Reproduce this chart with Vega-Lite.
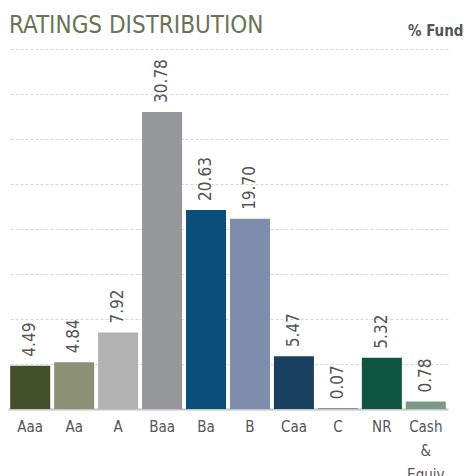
{
  "$schema": "https://vega.github.io/schema/vega-lite/v6.json",
  "autosize": {"type": "none"},
  "width": 440,
  "height": 360,
  "padding": {"left": 8, "top": 49, "right": 19, "bottom": 67},
  "background": "white",
  "config": {"view": {"stroke": null}, "font": "DejaVu Sans Condensed, sans-serif"},
  "title": {
    "text": "RATINGS DISTRIBUTION",
    "anchor": "start",
    "frame": "group",
    "font": "DejaVu Sans Condensed, sans-serif",
    "fontSize": 24,
    "fontWeight": "normal",
    "color": "#6b7356",
    "baseline": "alphabetic",
    "offset": 0,
    "dy": 34,
    "dx": 1
  },
  "data": {
    "values": [
      {"rating": "Aaa", "pct": 4.49, "label": "4.49", "color": "#434f28"},
      {"rating": "Aa", "pct": 4.84, "label": "4.84", "color": "#8c9075"},
      {"rating": "A", "pct": 7.92, "label": "7.92", "color": "#b2b2b2"},
      {"rating": "Baa", "pct": 30.78, "label": "30.78", "color": "#97989a"},
      {"rating": "Ba", "pct": 20.63, "label": "20.63", "color": "#0a4f7a"},
      {"rating": "B", "pct": 19.70, "label": "19.70", "color": "#7d8dab"},
      {"rating": "Caa", "pct": 5.47, "label": "5.47", "color": "#18405f"},
      {"rating": "C", "pct": 0.07, "label": "0.07", "color": "#6a7a8a"},
      {"rating": "NR", "pct": 5.32, "label": "5.32", "color": "#0f5540"},
      {"rating": "Cash & Equiv", "pct": 0.78, "label": "0.78", "color": "#7a9a85"}
    ]
  },
  "encoding": {
    "x": {
      "field": "rating",
      "type": "nominal",
      "sort": null,
      "scale": {"paddingInner": 0.09, "paddingOuter": 0.05},
      "axis": {
        "title": null,
        "labelAngle": 0,
        "ticks": false,
        "domain": true,
        "domainColor": "#c4c4c4",
        "domainWidth": 2,
        "labelFont": "DejaVu Sans Condensed, sans-serif",
        "labelFontSize": 15,
        "labelColor": "#555555",
        "labelPadding": 10,
        "labelLineHeight": 24,
        "labelBaseline": "top",
        "labelExpr": "datum.value == 'Cash & Equiv' ? ['Cash', '&', 'Equiv'] : datum.label"
      }
    },
    "y": {
      "field": "pct",
      "type": "quantitative",
      "scale": {"domain": [0, 37.3], "nice": false, "zero": true},
      "axis": {
        "orient": "right",
        "title": "% Fund",
        "titleAngle": 0,
        "titleAlign": "right",
        "titleBaseline": "alphabetic",
        "titleX": 15,
        "titleY": -14,
        "titleFont": "DejaVu Sans Condensed, sans-serif",
        "titleFontSize": 15,
        "titleFontWeight": "bold",
        "titleColor": "#555555",
        "labels": false,
        "ticks": false,
        "domain": false,
        "grid": true,
        "gridColor": "#d6d6d6",
        "gridDash": [3, 2],
        "gridWidth": 1,
        "values": [4.6625, 9.325, 13.9875, 18.65, 23.3125, 27.975, 32.6375, 37.3]
      }
    }
  },
  "layer": [
    {
      "mark": {"type": "bar"},
      "encoding": {
        "color": {"field": "color", "type": "nominal", "scale": null}
      }
    },
    {
      "mark": {
        "type": "text",
        "angle": 270,
        "align": "left",
        "baseline": "middle",
        "dx": 9,
        "fontSize": 17,
        "color": "#555555",
        "font": "DejaVu Sans Condensed, sans-serif"
      },
      "encoding": {
        "text": {"field": "label"}
      }
    }
  ]
}
